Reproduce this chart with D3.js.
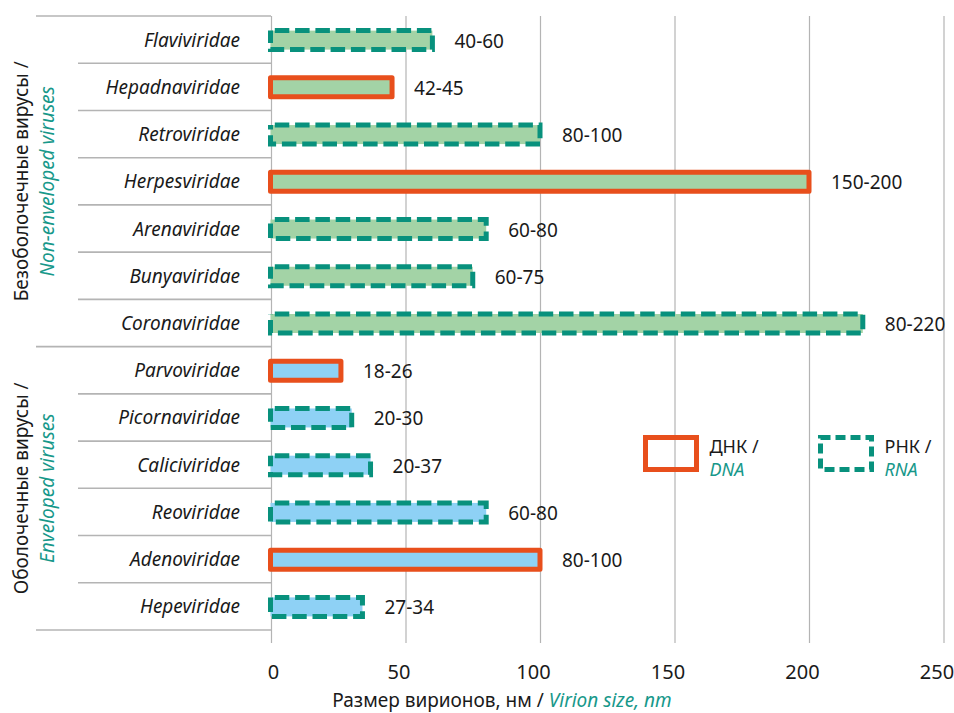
<!DOCTYPE html>
<html>
<head>
<meta charset="utf-8">
<script src="https://cdn.jsdelivr.net/npm/d3@7"></script>
<style>
  html, body { margin: 0; padding: 0; background: #ffffff; }
  svg { display: block; }
  text { font-family: "Noto Sans", "DejaVu Sans", sans-serif; fill: #1a1a1a; }
</style>
</head>
<body>
<svg id="chart" width="954" height="713"></svg>
<script>
// Virus families, top to bottom
const families = [
  "Flaviviridae", "Hepadnaviridae", "Retroviridae", "Herpesviridae",
  "Arenaviridae", "Bunyaviridae", "Coronaviridae",
  "Parvoviridae", "Picornaviridae", "Caliciviridae", "Reoviridae",
  "Adenoviridae", "Hepeviridae"
];
// Virion size range, nm
const sizeRanges = [
  "40-60", "42-45", "80-100", "150-200", "60-80", "60-75", "80-220",
  "18-26", "20-30", "20-37", "60-80", "80-100", "27-34"
];
// Genome type of each family
const genomeTypes = [
  "RNA", "DNA", "RNA", "DNA", "RNA", "RNA", "RNA",
  "DNA", "RNA", "RNA", "RNA", "DNA", "RNA"
];
// Family groups (in order) and how many families each holds
const groupRu = ["Безоболочечные вирусы /", "Оболочечные вирусы /"];
const groupEn = ["Non-enveloped viruses", "Enveloped viruses"];
const groupSizes = [7, 6];
// Axis ticks
const xTicks = [0, 50, 100, 150, 200, 250];

const ORANGE = "#e84f1c";
const TEAL = "#08917d";
const TEAL_TEXT = "#17988a";
const GREEN = "#a3d3a6";
const BLUE = "#8ed1f5";
const GRID = "#b4b4b4";
const DASH = "14.5,5.8";

const svg = d3.select("#chart");

// upper bound of each range sets the bar length
const maxSize = sizeRanges.map(r => +r.split("-")[1]);

const plotTop = 16, plotBottom = 630, gridBottom = 643;
const x = d3.scaleLinear().domain([0, 250]).range([271, 943.5]);
const y = d3.scaleBand().domain(families).range([plotTop, plotBottom]).padding(0);
const bw = y.bandwidth();

// group index of each family
const groupOf = [];
groupSizes.forEach((n, g) => { for (let i = 0; i < n; i++) groupOf.push(g); });

// vertical gridlines + tick labels
const axis = d3.axisBottom(x).tickValues(xTicks)
  .tickSizeInner(-(gridBottom - plotTop)).tickSizeOuter(0);
const gAxis = svg.append("g").attr("transform", `translate(0,${gridBottom})`).call(axis);
gAxis.select(".domain").remove();
gAxis.selectAll(".tick line").attr("stroke", GRID).attr("stroke-width", 1.2);
gAxis.selectAll(".tick text")
  .attr("x", (d, i) => i === 0 ? 2 : -7)
  .attr("y", 36).attr("dy", null)
  .attr("font-family", null)
  .attr("font-size", null)
  .style("font-size", "20px")
  .style("fill", "#1a1a1a");

// category separators
const starts = new Set([0]);
let acc = 0;
groupSizes.forEach(n => { acc += n; starts.add(acc); });
d3.range(families.length + 1).forEach(i => {
  const yy = plotTop + i * bw;
  svg.append("line")
    .attr("x1", starts.has(i) ? 36 : 78).attr("x2", 271)
    .attr("y1", yy).attr("y2", yy)
    .attr("stroke", GRID).attr("stroke-width", 1.6);
});

// category labels
svg.append("g").selectAll("text").data(families).join("text")
  .attr("x", 240)
  .attr("y", d => y(d) + bw / 2)
  .attr("text-anchor", "end")
  .attr("dominant-baseline", "central")
  .style("font-size", "19px")
  .style("font-style", "italic")
  .text(d => d);

// group labels (rotated, two lines)
let gStart = 0;
groupSizes.forEach((n, g) => {
  const cy = plotTop + (gStart + n / 2) * bw;
  gStart += n;
  const t = svg.append("g").attr("transform", `translate(0,${cy}) rotate(-90)`);
  t.append("text").attr("x", 0).attr("y", 21)
    .attr("text-anchor", "middle").attr("dominant-baseline", "central")
    .style("font-size", "19px").text(groupRu[g]);
  t.append("text").attr("x", 0).attr("y", 47)
    .attr("text-anchor", "middle").attr("dominant-baseline", "central")
    .style("font-size", "19px").style("font-style", "italic")
    .style("fill", TEAL_TEXT).text(groupEn[g]);
});

// bars
const barH = 19;
svg.append("g").selectAll("rect").data(families).join("rect")
  .attr("x", x(0) - 0.5)
  .attr("y", d => y(d) + bw / 2 - barH / 2 + 0.5)
  .attr("width", (d, i) => x(maxSize[i]) - x(0) + 0.5)
  .attr("height", barH)
  .attr("fill", (d, i) => groupOf[i] === 0 ? GREEN : BLUE)
  .attr("stroke", (d, i) => genomeTypes[i] === "DNA" ? ORANGE : TEAL)
  .attr("stroke-width", 5)
  .attr("stroke-linejoin", (d, i) => genomeTypes[i] === "DNA" ? "round" : "miter")
  .attr("stroke-dasharray", (d, i) => genomeTypes[i] === "DNA" ? null : DASH)
  .attr("stroke-dashoffset", (d, i) => genomeTypes[i] === "DNA" ? null : 16);

// value labels
svg.append("g").selectAll("text").data(families).join("text")
  .attr("x", (d, i) => x(maxSize[i]) + 22)
  .attr("y", d => y(d) + bw / 2 + 1)
  .attr("dominant-baseline", "central")
  .style("font-size", "19px")
  .text((d, i) => sizeRanges[i]);

// legend
const legend = [
  { type: "DNA", ru: "ДНК /", en: "DNA", x: 645.5 },
  { type: "RNA", ru: "РНК /", en: "RNA", x: 820.5 }
];
legend.forEach(l => {
  svg.append("rect")
    .attr("x", l.x).attr("y", 437.5).attr("width", 51).attr("height", 32)
    .attr("fill", "none")
    .attr("stroke", l.type === "DNA" ? ORANGE : TEAL)
    .attr("stroke-width", 5)
    .attr("stroke-dasharray", l.type === "DNA" ? null : "10,5");
  svg.append("text").attr("x", l.x + 64).attr("y", 446)
    .attr("dominant-baseline", "central").style("font-size", "18px").text(l.ru);
  svg.append("text").attr("x", l.x + 64).attr("y", 469)
    .attr("dominant-baseline", "central").style("font-size", "18px")
    .style("font-style", "italic").style("fill", TEAL_TEXT).text(l.en);
});

// axis title
const title = svg.append("text")
  .attr("x", 502).attr("y", 707)
  .attr("text-anchor", "middle")
  .style("font-size", "19px");
title.append("tspan").text("Размер вирионов, нм / ");
title.append("tspan").style("font-style", "italic").style("fill", TEAL_TEXT).text("Virion size, nm");
</script>
</body>
</html>
